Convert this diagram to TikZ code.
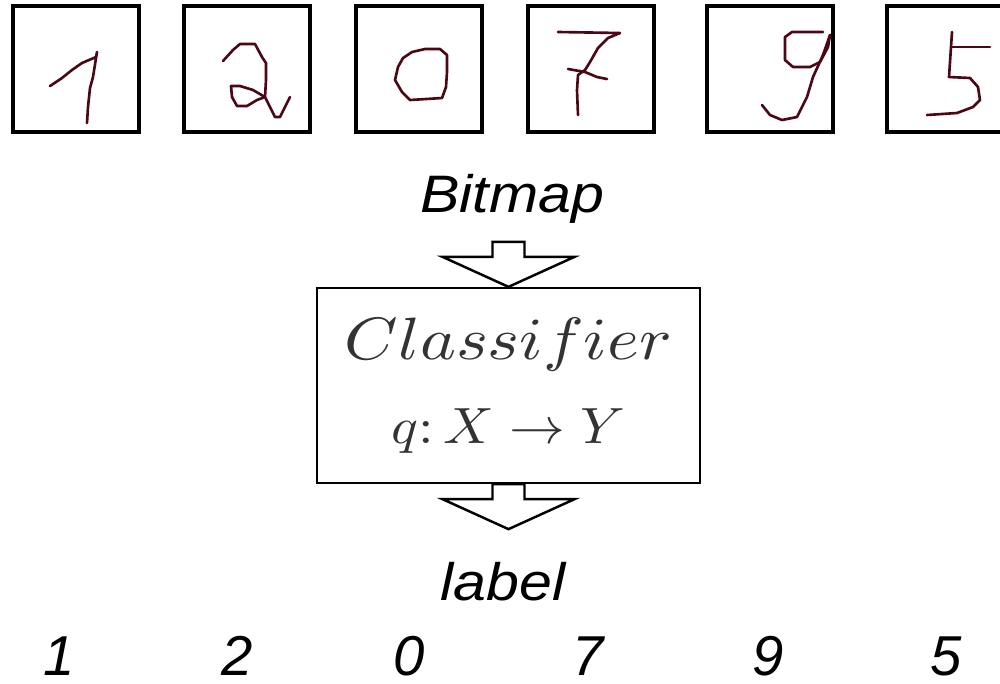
\documentclass[tikz,border=0pt]{standalone}
\usepackage{fontspec}
\usepackage{graphicx}
\usetikzlibrary{arrows.meta,calc}
\newfontfamily\capfont{Liberation Sans}[FakeStretch=1.12]
\newfontfamily\numfont{Liberation Sans}

\begin{document}
\begin{tikzpicture}[>=Stealth,x=0.2mm,y=-0.2mm,
    digitbox/.style={draw,line width=1.8pt,fill=white,minimum width=25.2mm,minimum height=25.2mm,inner sep=0pt},
    pen/.style={inkred,line width=1.5pt,line join=round,line cap=round},
    capt/.style={font=\capfont\itshape\fontsize{30}{36}\selectfont,anchor=base},
    outlabel/.style={font=\numfont\itshape\fontsize{32}{36}\selectfont,anchor=base,inner sep=0pt},
    blockarrow/.style={draw,line width=1.4pt,fill=white,line join=miter}]
  \definecolor{inkred}{RGB}{75,8,20}
  \clip (0,0) rectangle (1000,683);
  \fill[white] (0,0) rectangle (1000,683);
  % the six input bitmaps
  \node[digitbox] (img1) at (76,69) {};
  \node[digitbox] (img2) at (247,69) {};
  \node[digitbox] (img3) at (419,69) {};
  \node[digitbox] (img4) at (591,69) {};
  \node[digitbox] (img5) at (770,69) {};
  \node[digitbox] (img6) at (950,69) {};
  % handwritten strokes
  \draw[pen] (50,86)--(62,78)--(72,70)--(82,63)--(96,57)--(97,52)--(93,77)--(90,88)--(88,107)--(87,123);
  \draw[pen] (223,61)--(233,50)--(240,44)--(255,44)--(262,57)--(266,63)--(266,80)--(265,97)--(270,107)--(275,117)--(280,117)--(285,107)--(290,97);
  \draw[pen] (265,97)--(253,90)--(240,86)--(231,86)--(232,97)--(237,106)--(247,106)--(257,100)--cycle;
  \draw[pen] (412,52)--(425,49)--(440,49)--(447,55)--(447,72)--(446,87)--(442,98)--(410,100)--(402,92)--(395,80)--(398,67)--(403,58)--cycle;
  \draw[pen] (558,32)--(620,33)--(608,38)--(598,48)--(590,62)--(585,70)--(578,75)--(577,90)--(578,115);
  \draw[pen] (568,69)--(585,72)--(597,77)--(607,79);
  \draw[pen] (823,32)--(792,32)--(785,37)--(785,60)--(793,67)--(810,67)--(820,62)--(828,47)--(830,35);
  \draw[pen] (830,35)--(823,55)--(813,77)--(807,97)--(797,117)--(782,120)--(770,115)--(762,105);
  \draw[pen] (952,32)--(949,77)--(970,78)--(978,87)--(980,100)--(973,107)--(957,113)--(927,115);
  \draw[pen] (952,47)--(990,47);
  % classifier
  \node[capt] (bitmap) at (512,212) {Bitmap};
  \node[draw,line width=1.3pt,minimum width=76.6mm,minimum height=39mm,align=center,
        text=black!80,font=\fontsize{10}{47.5}\selectfont] (clf) at (508.5,385.5)
    {\scalebox{3.88}[3.4]{$Classifier$}\\
     \scalebox{3.18}[2.9]{$q\colon X\rightarrow Y$}};
  \draw[blockarrow] (clf.north)--($(clf.north)+(66,-30)$)--($(clf.north)+(16,-30)$)
    --($(clf.north)+(16,-45)$)--($(clf.north)+(-16,-45)$)--($(clf.north)+(-16,-30)$)
    --($(clf.north)+(-66,-30)$)--cycle;
  \draw[blockarrow] ($(clf.south)+(-16,0)$)--($(clf.south)+(16,0)$)--($(clf.south)+(16,15)$)
    --($(clf.south)+(66,15)$)--($(clf.south)+(0,45)$)--($(clf.south)+(-66,15)$)
    --($(clf.south)+(-16,15)$)--cycle;
  \node[capt] (label) at (503,600) {label};
  % predicted labels
  \node[outlabel] (out1) at (59,675) {1};
  \node[outlabel] (out2) at (237,675) {2};
  \node[outlabel] (out3) at (409,675) {0};
  \node[outlabel] (out4) at (588,675) {7};
  \node[outlabel] (out5) at (768,675) {9};
  \node[outlabel] (out6) at (946,675) {5};
\end{tikzpicture}
\end{document}
